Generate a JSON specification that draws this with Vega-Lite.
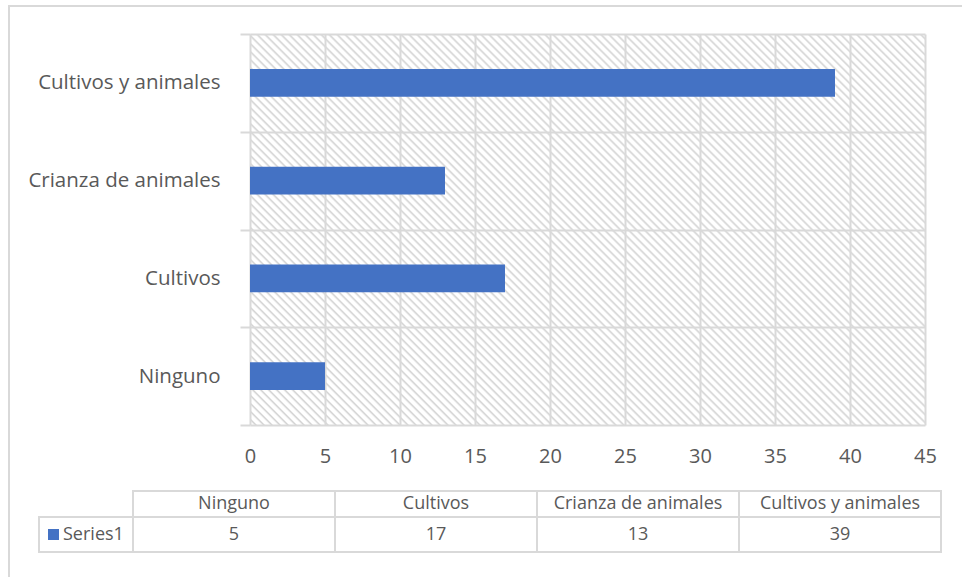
{
  "$schema": "https://vega.github.io/schema/vega-lite/v6.json",
  "padding": {"left": 8, "top": 5, "right": 5, "bottom": 5},
  "background": "white",
  "width": 675,
  "height": 391,
  "data": {"values": [
    {"cat": "Ninguno", "value": 5, "series": "Series1"},
    {"cat": "Cultivos", "value": 17, "series": "Series1"},
    {"cat": "Crianza de animales", "value": 13, "series": "Series1"},
    {"cat": "Cultivos y animales", "value": 39, "series": "Series1"}
  ]},
  "config": {"font": "Open Sans", "view": {"stroke": null}},
  "view": {"stroke": null, "fill": {"gradient": "linear", "x1": 0, "y1": 1, "x2": 1.1825, "y2": 0.315, "stops": [
{"offset":0,"color":"#fff"},{"offset":0.0034,"color":"#fff"},{"offset":0.0056,"color":"#d2d2d2"},
{"offset":0.0075,"color":"#fff"},{"offset":0.0109,"color":"#fff"},{"offset":0.0131,"color":"#d2d2d2"},
{"offset":0.015,"color":"#fff"},{"offset":0.0184,"color":"#fff"},{"offset":0.0206,"color":"#d2d2d2"},
{"offset":0.0225,"color":"#fff"},{"offset":0.0259,"color":"#fff"},{"offset":0.0281,"color":"#d2d2d2"},
{"offset":0.03,"color":"#fff"},{"offset":0.0334,"color":"#fff"},{"offset":0.0356,"color":"#d2d2d2"},
{"offset":0.0375,"color":"#fff"},{"offset":0.0409,"color":"#fff"},{"offset":0.0431,"color":"#d2d2d2"},
{"offset":0.045,"color":"#fff"},{"offset":0.0484,"color":"#fff"},{"offset":0.0506,"color":"#d2d2d2"},
{"offset":0.0525,"color":"#fff"},{"offset":0.0559,"color":"#fff"},{"offset":0.0581,"color":"#d2d2d2"},
{"offset":0.06,"color":"#fff"},{"offset":0.0634,"color":"#fff"},{"offset":0.0656,"color":"#d2d2d2"},
{"offset":0.0675,"color":"#fff"},{"offset":0.0709,"color":"#fff"},{"offset":0.0731,"color":"#d2d2d2"},
{"offset":0.075,"color":"#fff"},{"offset":0.0784,"color":"#fff"},{"offset":0.0806,"color":"#d2d2d2"},
{"offset":0.0825,"color":"#fff"},{"offset":0.0859,"color":"#fff"},{"offset":0.0881,"color":"#d2d2d2"},
{"offset":0.09,"color":"#fff"},{"offset":0.0934,"color":"#fff"},{"offset":0.0956,"color":"#d2d2d2"},
{"offset":0.0975,"color":"#fff"},{"offset":0.1009,"color":"#fff"},{"offset":0.1031,"color":"#d2d2d2"},
{"offset":0.105,"color":"#fff"},{"offset":0.1084,"color":"#fff"},{"offset":0.1106,"color":"#d2d2d2"},
{"offset":0.1125,"color":"#fff"},{"offset":0.1159,"color":"#fff"},{"offset":0.1181,"color":"#d2d2d2"},
{"offset":0.12,"color":"#fff"},{"offset":0.1234,"color":"#fff"},{"offset":0.1256,"color":"#d2d2d2"},
{"offset":0.1275,"color":"#fff"},{"offset":0.1309,"color":"#fff"},{"offset":0.1331,"color":"#d2d2d2"},
{"offset":0.135,"color":"#fff"},{"offset":0.1384,"color":"#fff"},{"offset":0.1406,"color":"#d2d2d2"},
{"offset":0.1425,"color":"#fff"},{"offset":0.1459,"color":"#fff"},{"offset":0.1481,"color":"#d2d2d2"},
{"offset":0.15,"color":"#fff"},{"offset":0.1534,"color":"#fff"},{"offset":0.1556,"color":"#d2d2d2"},
{"offset":0.1575,"color":"#fff"},{"offset":0.1609,"color":"#fff"},{"offset":0.1631,"color":"#d2d2d2"},
{"offset":0.165,"color":"#fff"},{"offset":0.1684,"color":"#fff"},{"offset":0.1706,"color":"#d2d2d2"},
{"offset":0.1725,"color":"#fff"},{"offset":0.1759,"color":"#fff"},{"offset":0.1781,"color":"#d2d2d2"},
{"offset":0.18,"color":"#fff"},{"offset":0.1834,"color":"#fff"},{"offset":0.1856,"color":"#d2d2d2"},
{"offset":0.1875,"color":"#fff"},{"offset":0.1909,"color":"#fff"},{"offset":0.1931,"color":"#d2d2d2"},
{"offset":0.195,"color":"#fff"},{"offset":0.1984,"color":"#fff"},{"offset":0.2006,"color":"#d2d2d2"},
{"offset":0.2025,"color":"#fff"},{"offset":0.2059,"color":"#fff"},{"offset":0.2081,"color":"#d2d2d2"},
{"offset":0.21,"color":"#fff"},{"offset":0.2134,"color":"#fff"},{"offset":0.2156,"color":"#d2d2d2"},
{"offset":0.2175,"color":"#fff"},{"offset":0.2209,"color":"#fff"},{"offset":0.2231,"color":"#d2d2d2"},
{"offset":0.225,"color":"#fff"},{"offset":0.2284,"color":"#fff"},{"offset":0.2306,"color":"#d2d2d2"},
{"offset":0.2325,"color":"#fff"},{"offset":0.2359,"color":"#fff"},{"offset":0.2381,"color":"#d2d2d2"},
{"offset":0.24,"color":"#fff"},{"offset":0.2434,"color":"#fff"},{"offset":0.2456,"color":"#d2d2d2"},
{"offset":0.2475,"color":"#fff"},{"offset":0.2509,"color":"#fff"},{"offset":0.2531,"color":"#d2d2d2"},
{"offset":0.255,"color":"#fff"},{"offset":0.2584,"color":"#fff"},{"offset":0.2606,"color":"#d2d2d2"},
{"offset":0.2625,"color":"#fff"},{"offset":0.2659,"color":"#fff"},{"offset":0.2681,"color":"#d2d2d2"},
{"offset":0.27,"color":"#fff"},{"offset":0.2734,"color":"#fff"},{"offset":0.2756,"color":"#d2d2d2"},
{"offset":0.2775,"color":"#fff"},{"offset":0.2809,"color":"#fff"},{"offset":0.2831,"color":"#d2d2d2"},
{"offset":0.285,"color":"#fff"},{"offset":0.2884,"color":"#fff"},{"offset":0.2906,"color":"#d2d2d2"},
{"offset":0.2925,"color":"#fff"},{"offset":0.2959,"color":"#fff"},{"offset":0.2981,"color":"#d2d2d2"},
{"offset":0.3,"color":"#fff"},{"offset":0.3034,"color":"#fff"},{"offset":0.3056,"color":"#d2d2d2"},
{"offset":0.3075,"color":"#fff"},{"offset":0.3109,"color":"#fff"},{"offset":0.3131,"color":"#d2d2d2"},
{"offset":0.315,"color":"#fff"},{"offset":0.3184,"color":"#fff"},{"offset":0.3206,"color":"#d2d2d2"},
{"offset":0.3225,"color":"#fff"},{"offset":0.3259,"color":"#fff"},{"offset":0.3281,"color":"#d2d2d2"},
{"offset":0.33,"color":"#fff"},{"offset":0.3334,"color":"#fff"},{"offset":0.3356,"color":"#d2d2d2"},
{"offset":0.3375,"color":"#fff"},{"offset":0.3409,"color":"#fff"},{"offset":0.3431,"color":"#d2d2d2"},
{"offset":0.345,"color":"#fff"},{"offset":0.3484,"color":"#fff"},{"offset":0.3506,"color":"#d2d2d2"},
{"offset":0.3525,"color":"#fff"},{"offset":0.3559,"color":"#fff"},{"offset":0.3581,"color":"#d2d2d2"},
{"offset":0.36,"color":"#fff"},{"offset":0.3634,"color":"#fff"},{"offset":0.3656,"color":"#d2d2d2"},
{"offset":0.3675,"color":"#fff"},{"offset":0.3709,"color":"#fff"},{"offset":0.3731,"color":"#d2d2d2"},
{"offset":0.375,"color":"#fff"},{"offset":0.3784,"color":"#fff"},{"offset":0.3806,"color":"#d2d2d2"},
{"offset":0.3825,"color":"#fff"},{"offset":0.3859,"color":"#fff"},{"offset":0.3881,"color":"#d2d2d2"},
{"offset":0.39,"color":"#fff"},{"offset":0.3934,"color":"#fff"},{"offset":0.3956,"color":"#d2d2d2"},
{"offset":0.3975,"color":"#fff"},{"offset":0.4009,"color":"#fff"},{"offset":0.4031,"color":"#d2d2d2"},
{"offset":0.405,"color":"#fff"},{"offset":0.4084,"color":"#fff"},{"offset":0.4106,"color":"#d2d2d2"},
{"offset":0.4125,"color":"#fff"},{"offset":0.4159,"color":"#fff"},{"offset":0.4181,"color":"#d2d2d2"},
{"offset":0.42,"color":"#fff"},{"offset":0.4234,"color":"#fff"},{"offset":0.4256,"color":"#d2d2d2"},
{"offset":0.4275,"color":"#fff"},{"offset":0.4309,"color":"#fff"},{"offset":0.4331,"color":"#d2d2d2"},
{"offset":0.435,"color":"#fff"},{"offset":0.4384,"color":"#fff"},{"offset":0.4406,"color":"#d2d2d2"},
{"offset":0.4425,"color":"#fff"},{"offset":0.4459,"color":"#fff"},{"offset":0.4481,"color":"#d2d2d2"},
{"offset":0.45,"color":"#fff"},{"offset":0.4534,"color":"#fff"},{"offset":0.4556,"color":"#d2d2d2"},
{"offset":0.4575,"color":"#fff"},{"offset":0.4609,"color":"#fff"},{"offset":0.4631,"color":"#d2d2d2"},
{"offset":0.465,"color":"#fff"},{"offset":0.4684,"color":"#fff"},{"offset":0.4706,"color":"#d2d2d2"},
{"offset":0.4725,"color":"#fff"},{"offset":0.4759,"color":"#fff"},{"offset":0.4781,"color":"#d2d2d2"},
{"offset":0.48,"color":"#fff"},{"offset":0.4834,"color":"#fff"},{"offset":0.4856,"color":"#d2d2d2"},
{"offset":0.4875,"color":"#fff"},{"offset":0.4909,"color":"#fff"},{"offset":0.4931,"color":"#d2d2d2"},
{"offset":0.495,"color":"#fff"},{"offset":0.4984,"color":"#fff"},{"offset":0.5006,"color":"#d2d2d2"},
{"offset":0.5025,"color":"#fff"},{"offset":0.5059,"color":"#fff"},{"offset":0.5081,"color":"#d2d2d2"},
{"offset":0.51,"color":"#fff"},{"offset":0.5134,"color":"#fff"},{"offset":0.5156,"color":"#d2d2d2"},
{"offset":0.5175,"color":"#fff"},{"offset":0.5209,"color":"#fff"},{"offset":0.5231,"color":"#d2d2d2"},
{"offset":0.525,"color":"#fff"},{"offset":0.5284,"color":"#fff"},{"offset":0.5306,"color":"#d2d2d2"},
{"offset":0.5325,"color":"#fff"},{"offset":0.5359,"color":"#fff"},{"offset":0.5381,"color":"#d2d2d2"},
{"offset":0.54,"color":"#fff"},{"offset":0.5434,"color":"#fff"},{"offset":0.5456,"color":"#d2d2d2"},
{"offset":0.5475,"color":"#fff"},{"offset":0.5509,"color":"#fff"},{"offset":0.5531,"color":"#d2d2d2"},
{"offset":0.555,"color":"#fff"},{"offset":0.5584,"color":"#fff"},{"offset":0.5606,"color":"#d2d2d2"},
{"offset":0.5625,"color":"#fff"},{"offset":0.5659,"color":"#fff"},{"offset":0.5681,"color":"#d2d2d2"},
{"offset":0.57,"color":"#fff"},{"offset":0.5734,"color":"#fff"},{"offset":0.5756,"color":"#d2d2d2"},
{"offset":0.5775,"color":"#fff"},{"offset":0.5809,"color":"#fff"},{"offset":0.5831,"color":"#d2d2d2"},
{"offset":0.585,"color":"#fff"},{"offset":0.5884,"color":"#fff"},{"offset":0.5906,"color":"#d2d2d2"},
{"offset":0.5925,"color":"#fff"},{"offset":0.5959,"color":"#fff"},{"offset":0.5981,"color":"#d2d2d2"},
{"offset":0.6,"color":"#fff"},{"offset":0.6034,"color":"#fff"},{"offset":0.6056,"color":"#d2d2d2"},
{"offset":0.6075,"color":"#fff"},{"offset":0.6109,"color":"#fff"},{"offset":0.6131,"color":"#d2d2d2"},
{"offset":0.615,"color":"#fff"},{"offset":0.6184,"color":"#fff"},{"offset":0.6206,"color":"#d2d2d2"},
{"offset":0.6225,"color":"#fff"},{"offset":0.6259,"color":"#fff"},{"offset":0.6281,"color":"#d2d2d2"},
{"offset":0.63,"color":"#fff"},{"offset":0.6334,"color":"#fff"},{"offset":0.6356,"color":"#d2d2d2"},
{"offset":0.6375,"color":"#fff"},{"offset":0.6409,"color":"#fff"},{"offset":0.6431,"color":"#d2d2d2"},
{"offset":0.645,"color":"#fff"},{"offset":0.6484,"color":"#fff"},{"offset":0.6506,"color":"#d2d2d2"},
{"offset":0.6525,"color":"#fff"},{"offset":0.6559,"color":"#fff"},{"offset":0.6581,"color":"#d2d2d2"},
{"offset":0.66,"color":"#fff"},{"offset":0.6634,"color":"#fff"},{"offset":0.6656,"color":"#d2d2d2"},
{"offset":0.6675,"color":"#fff"},{"offset":0.6709,"color":"#fff"},{"offset":0.6731,"color":"#d2d2d2"},
{"offset":0.675,"color":"#fff"},{"offset":0.6784,"color":"#fff"},{"offset":0.6806,"color":"#d2d2d2"},
{"offset":0.6825,"color":"#fff"},{"offset":0.6859,"color":"#fff"},{"offset":0.6881,"color":"#d2d2d2"},
{"offset":0.69,"color":"#fff"},{"offset":0.6934,"color":"#fff"},{"offset":0.6956,"color":"#d2d2d2"},
{"offset":0.6975,"color":"#fff"},{"offset":0.7009,"color":"#fff"},{"offset":0.7031,"color":"#d2d2d2"},
{"offset":0.705,"color":"#fff"},{"offset":0.7084,"color":"#fff"},{"offset":0.7106,"color":"#d2d2d2"},
{"offset":0.7125,"color":"#fff"},{"offset":0.7159,"color":"#fff"},{"offset":0.7181,"color":"#d2d2d2"},
{"offset":0.72,"color":"#fff"},{"offset":0.7234,"color":"#fff"},{"offset":0.7256,"color":"#d2d2d2"},
{"offset":0.7275,"color":"#fff"},{"offset":0.7309,"color":"#fff"},{"offset":0.7331,"color":"#d2d2d2"},
{"offset":0.735,"color":"#fff"},{"offset":0.7384,"color":"#fff"},{"offset":0.7406,"color":"#d2d2d2"},
{"offset":0.7425,"color":"#fff"},{"offset":0.7459,"color":"#fff"},{"offset":0.7481,"color":"#d2d2d2"},
{"offset":0.75,"color":"#fff"},{"offset":0.7534,"color":"#fff"},{"offset":0.7556,"color":"#d2d2d2"},
{"offset":0.7575,"color":"#fff"},{"offset":0.7609,"color":"#fff"},{"offset":0.7631,"color":"#d2d2d2"},
{"offset":0.765,"color":"#fff"},{"offset":0.7684,"color":"#fff"},{"offset":0.7706,"color":"#d2d2d2"},
{"offset":0.7725,"color":"#fff"},{"offset":0.7759,"color":"#fff"},{"offset":0.7781,"color":"#d2d2d2"},
{"offset":0.78,"color":"#fff"},{"offset":0.7834,"color":"#fff"},{"offset":0.7856,"color":"#d2d2d2"},
{"offset":0.7875,"color":"#fff"},{"offset":0.7909,"color":"#fff"},{"offset":0.7931,"color":"#d2d2d2"},
{"offset":0.795,"color":"#fff"},{"offset":0.7984,"color":"#fff"},{"offset":0.8006,"color":"#d2d2d2"},
{"offset":0.8025,"color":"#fff"},{"offset":0.8059,"color":"#fff"},{"offset":0.8081,"color":"#d2d2d2"},
{"offset":0.81,"color":"#fff"},{"offset":0.8134,"color":"#fff"},{"offset":0.8156,"color":"#d2d2d2"},
{"offset":0.8175,"color":"#fff"},{"offset":0.8209,"color":"#fff"},{"offset":0.8231,"color":"#d2d2d2"},
{"offset":0.825,"color":"#fff"},{"offset":0.8284,"color":"#fff"},{"offset":0.8306,"color":"#d2d2d2"},
{"offset":0.8325,"color":"#fff"},{"offset":0.8359,"color":"#fff"},{"offset":0.8381,"color":"#d2d2d2"},
{"offset":0.84,"color":"#fff"},{"offset":0.8434,"color":"#fff"},{"offset":0.8456,"color":"#d2d2d2"},
{"offset":0.8475,"color":"#fff"},{"offset":0.8509,"color":"#fff"},{"offset":0.8531,"color":"#d2d2d2"},
{"offset":0.855,"color":"#fff"},{"offset":0.8584,"color":"#fff"},{"offset":0.8606,"color":"#d2d2d2"},
{"offset":0.8625,"color":"#fff"},{"offset":0.8659,"color":"#fff"},{"offset":0.8681,"color":"#d2d2d2"},
{"offset":0.87,"color":"#fff"},{"offset":0.8734,"color":"#fff"},{"offset":0.8756,"color":"#d2d2d2"},
{"offset":0.8775,"color":"#fff"},{"offset":0.8809,"color":"#fff"},{"offset":0.8831,"color":"#d2d2d2"},
{"offset":0.885,"color":"#fff"},{"offset":0.8884,"color":"#fff"},{"offset":0.8906,"color":"#d2d2d2"},
{"offset":0.8925,"color":"#fff"},{"offset":0.8959,"color":"#fff"},{"offset":0.8981,"color":"#d2d2d2"},
{"offset":0.9,"color":"#fff"},{"offset":0.9034,"color":"#fff"},{"offset":0.9056,"color":"#d2d2d2"},
{"offset":0.9075,"color":"#fff"},{"offset":0.9109,"color":"#fff"},{"offset":0.9131,"color":"#d2d2d2"},
{"offset":0.915,"color":"#fff"},{"offset":0.9184,"color":"#fff"},{"offset":0.9206,"color":"#d2d2d2"},
{"offset":0.9225,"color":"#fff"},{"offset":0.9259,"color":"#fff"},{"offset":0.9281,"color":"#d2d2d2"},
{"offset":0.93,"color":"#fff"},{"offset":0.9334,"color":"#fff"},{"offset":0.9356,"color":"#d2d2d2"},
{"offset":0.9375,"color":"#fff"},{"offset":0.9409,"color":"#fff"},{"offset":0.9431,"color":"#d2d2d2"},
{"offset":0.945,"color":"#fff"},{"offset":0.9484,"color":"#fff"},{"offset":0.9506,"color":"#d2d2d2"},
{"offset":0.9525,"color":"#fff"},{"offset":0.9559,"color":"#fff"},{"offset":0.9581,"color":"#d2d2d2"},
{"offset":0.96,"color":"#fff"},{"offset":0.9634,"color":"#fff"},{"offset":0.9656,"color":"#d2d2d2"},
{"offset":0.9675,"color":"#fff"},{"offset":0.9709,"color":"#fff"},{"offset":0.9731,"color":"#d2d2d2"},
{"offset":0.975,"color":"#fff"},{"offset":0.9784,"color":"#fff"},{"offset":0.9806,"color":"#d2d2d2"},
{"offset":0.9825,"color":"#fff"},{"offset":0.9859,"color":"#fff"},{"offset":0.9881,"color":"#d2d2d2"},
{"offset":0.99,"color":"#fff"},{"offset":0.9934,"color":"#fff"},{"offset":0.9956,"color":"#d2d2d2"},
{"offset":0.9975,"color":"#fff"},{"offset":1,"color":"#fff"}
  ]}},
  "resolve": {"scale": {"x": "independent", "y": "independent"}, "axis": {"x": "independent", "y": "independent"}},
  "layer": [
    {
      "mark": {"type": "bar", "height": {"band": 0.286}},
      "encoding": {
        "y": {"field": "cat", "type": "nominal", "sort": ["Cultivos y animales", "Crianza de animales", "Cultivos", "Ninguno"],
          "scale": {"paddingInner": 0, "paddingOuter": 0},
          "axis": {"title": null, "tickBand": "extent", "domain": false, "ticks": true, "tickSize": 10, "tickColor": "#d9d9d9", "tickWidth": 2,
            "grid": true, "gridColor": "#d9d9d9", "gridWidth": 2, "labelFont": "Open Sans", "labelFontSize": 20.5, "labelColor": "#595959", "labelPadding": 20, "labelLimit": 0}},
        "x": {"field": "value", "type": "quantitative", "scale": {"domain": [0, 45], "nice": false},
          "axis": {"title": null, "values": [0, 5, 10, 15, 20, 25, 30, 35, 40, 45], "domain": false, "ticks": false, "grid": true, "gridColor": "#d9d9d9", "gridWidth": 2,
            "labelFont": "Open Sans", "labelFontSize": 20, "labelColor": "#595959", "labelPadding": 21, "labelFlush": false}},
        "color": {"field": "series", "type": "nominal", "scale": {"range": ["#4472C4"]}, "legend": null}
      }
    },
    {
      "encoding": {
        "x": {"field": "cat", "type": "nominal", "sort": ["Ninguno", "Cultivos", "Crianza de animales", "Cultivos y animales"],
          "scale": {"range": [-117, 691], "paddingInner": 0, "paddingOuter": 0}, "axis": null},
        "y": {"datum": "header", "type": "nominal", "scale": {"range": [457, 483], "paddingInner": 0, "paddingOuter": 0}, "axis": null}
      },
      "layer": [
        {"mark": {"type": "rect", "fill": "white", "stroke": "#d9d9d9", "strokeWidth": 2}},
        {"mark": {"type": "text", "fontSize": 18, "color": "#595959", "font": "Open Sans"}, "encoding": {"text": {"field": "cat"}}}
      ]
    },
    {
      "encoding": {
        "x": {"field": "cat", "type": "nominal", "sort": ["Ninguno", "Cultivos", "Crianza de animales", "Cultivos y animales"],
          "scale": {"range": [-117, 691], "paddingInner": 0, "paddingOuter": 0}, "axis": null},
        "y": {"datum": "Series1", "type": "nominal", "scale": {"range": [483, 518], "paddingInner": 0, "paddingOuter": 0}, "axis": null}
      },
      "layer": [
        {"mark": {"type": "rect", "fill": "white", "stroke": "#d9d9d9", "strokeWidth": 2}},
        {"mark": {"type": "text", "fontSize": 18, "color": "#595959", "font": "Open Sans"}, "encoding": {"text": {"field": "value"}}}
      ]
    },
    {
      "data": {"values": [{"series": "Series1"}]},
      "encoding": {
        "y": {"datum": "Series1", "type": "nominal", "scale": {"range": [483, 518], "paddingInner": 0, "paddingOuter": 0}, "axis": null}
      },
      "layer": [
        {"mark": {"type": "rect", "fill": "white", "stroke": "#d9d9d9", "strokeWidth": 2},
         "encoding": {"x": {"datum": "Series1", "type": "nominal", "scale": {"range": [-211, -117], "paddingInner": 0, "paddingOuter": 0}, "axis": null}}},
        {"mark": {"type": "point", "shape": "square", "filled": true, "size": 121, "opacity": 1, "xOffset": 14.5},
         "encoding": {"x": {"datum": "Series1", "type": "nominal", "bandPosition": 0, "scale": {"range": [-211, -117], "paddingInner": 0, "paddingOuter": 0}, "axis": null},
           "color": {"field": "series", "type": "nominal", "legend": null}}},
        {"mark": {"type": "text", "align": "left", "xOffset": 24, "fontSize": 18, "color": "#595959", "font": "Open Sans"},
         "encoding": {"x": {"datum": "Series1", "type": "nominal", "bandPosition": 0, "scale": {"range": [-211, -117], "paddingInner": 0, "paddingOuter": 0}, "axis": null},
           "text": {"field": "series"}}}
      ]
    },
    {
      "data": {"values": [{"frame": "frame"}]},
      "mark": {"type": "rect", "filled": false, "stroke": "#d9d9d9", "strokeWidth": 2},
      "encoding": {
        "x": {"datum": "frame", "type": "nominal", "scale": {"range": [-241, 720], "paddingInner": 0, "paddingOuter": 0}, "axis": null},
        "y": {"datum": "frame", "type": "nominal", "scale": {"range": [-28, 560], "paddingInner": 0, "paddingOuter": 0}, "axis": null}
      }
    }
  ]
}
